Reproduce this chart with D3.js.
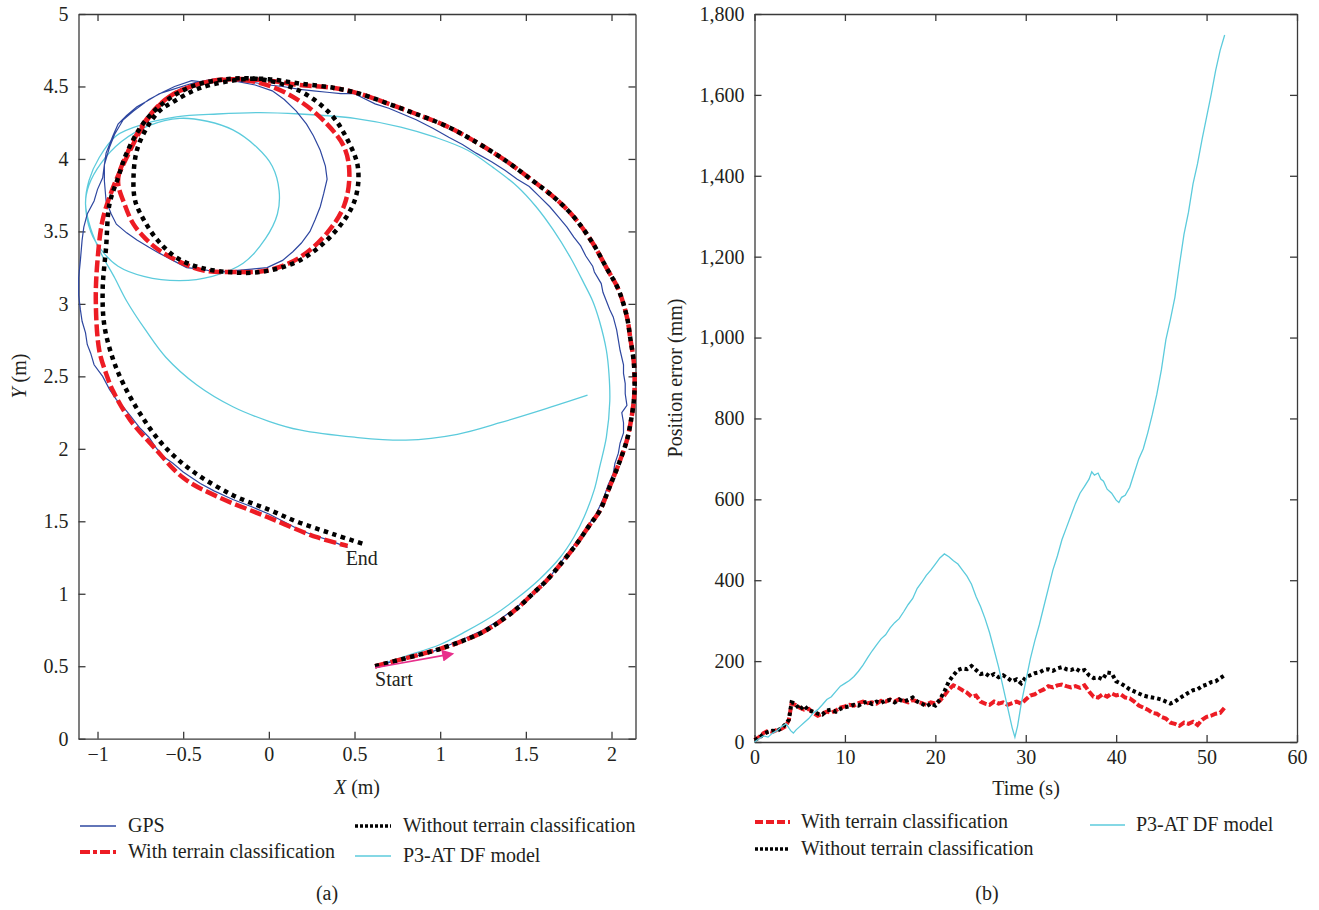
<!DOCTYPE html>
<html><head><meta charset="utf-8">
<script src="https://cdn.jsdelivr.net/npm/d3@7"></script>
<style>
body{margin:0;background:#fff}
text{font-family:"Liberation Serif","DejaVu Serif",serif;fill:#231f20}
</style>
</head><body>
<svg id="c" width="1319" height="910"></svg>
<script>
// ---------- (a) trajectory data (X m, Y m) ----------
const xTicksA = [-1, -0.5, 0, 0.5, 1, 1.5, 2];
const yTicksA = [0, 0.5, 1, 1.5, 2, 2.5, 3, 3.5, 4, 4.5, 5];

const gpsPath = [[0.62,0.50],[0.68,0.52],[0.75,0.54],[0.82,0.56],[0.90,0.58],[1.0,0.62],[1.08,0.66],[1.16,0.70],[1.25,0.75],[1.32,0.80],[1.38,0.85],[1.45,0.91],[1.5,0.96],[1.56,1.02],[1.6,1.07],[1.65,1.13],[1.68,1.18],[1.72,1.24],[1.75,1.28],[1.79,1.35],[1.82,1.40],[1.86,1.46],[1.88,1.50],[1.91,1.55],[1.93,1.60],[1.96,1.68],[1.98,1.75],[2.01,1.83],[2.02,1.90],[2.04,1.97],[2.05,2.04],[2.07,2.11],[2.07,2.18],[2.06,2.25],[2.09,2.30],[2.08,2.38],[2.08,2.45],[2.07,2.52],[2.07,2.58],[2.05,2.68],[2.04,2.75],[2.03,2.82],[2.01,2.91],[1.99,2.96],[1.97,3.02],[1.95,3.08],[1.94,3.14],[1.90,3.22],[1.89,3.26],[1.85,3.33],[1.82,3.40],[1.78,3.46],[1.74,3.53],[1.69,3.60],[1.64,3.67],[1.58,3.74],[1.52,3.81],[1.45,3.86],[1.38,3.92],[1.30,3.98],[1.21,4.04],[1.13,4.10],[1.05,4.15],[0.96,4.21],[0.86,4.27],[0.78,4.31],[0.70,4.35],[0.62,4.38],[0.55,4.42],[0.50,4.45],[0.42,4.45],[0.34,4.46],[0.26,4.47],[0.18,4.48],[0.08,4.50],[0.0,4.51],[-0.1,4.53],[-0.2,4.54],[-0.3,4.55],[-0.38,4.53],[-0.45,4.54],[-0.55,4.50],[-0.62,4.46],[-0.70,4.41],[-0.79,4.33],[-0.85,4.27],[-0.9,4.17],[-0.93,4.08],[-0.96,3.96],[-0.96,3.85],[-0.95,3.71],[-0.92,3.62],[-0.89,3.55],[-0.83,3.49],[-0.77,3.44],[-0.70,3.39],[-0.64,3.35],[-0.56,3.30],[-0.48,3.25],[-0.40,3.24],[-0.3,3.22],[-0.2,3.23],[-0.1,3.24],[-0.01,3.25],[0.08,3.30],[0.14,3.36],[0.19,3.42],[0.24,3.50],[0.27,3.58],[0.30,3.67],[0.32,3.76],[0.34,3.86],[0.33,3.95],[0.30,4.06],[0.26,4.16],[0.22,4.24],[0.16,4.33],[0.09,4.41],[0.02,4.47],[-0.08,4.51],[-0.21,4.54],[-0.32,4.55],[-0.42,4.53],[-0.48,4.51],[-0.56,4.48],[-0.64,4.45],[-0.71,4.40],[-0.77,4.36],[-0.83,4.30],[-0.88,4.24],[-0.91,4.16],[-0.95,4.04],[-0.96,3.96],[-0.97,3.87],[-1.0,3.79],[-1.02,3.71],[-1.06,3.62],[-1.08,3.53],[-1.09,3.44],[-1.10,3.30],[-1.11,3.18],[-1.11,3.06],[-1.10,2.96],[-1.09,2.88],[-1.07,2.80],[-1.06,2.72],[-1.04,2.66],[-1.02,2.58],[-0.97,2.50],[-0.93,2.41],[-0.89,2.34],[-0.85,2.29],[-0.81,2.23],[-0.75,2.14],[-0.70,2.08],[-0.66,2.01],[-0.62,1.95],[-0.56,1.90],[-0.5,1.84],[-0.45,1.80],[-0.4,1.76],[-0.32,1.71],[-0.21,1.65],[-0.1,1.60],[0.0,1.55],[0.1,1.49],[0.18,1.44],[0.27,1.40],[0.35,1.37],[0.46,1.32]];

const withTerrainPath = [[0.62,0.50],[0.75,0.54],[0.88,0.58],[1.0,0.62],[1.12,0.67],[1.24,0.73],[1.35,0.81],[1.45,0.90],[1.54,1.00],[1.62,1.09],[1.70,1.20],[1.80,1.35],[1.87,1.47],[1.93,1.57],[1.99,1.74],[2.05,1.92],[2.09,2.06],[2.11,2.17],[2.13,2.33],[2.135,2.45],[2.13,2.60],[2.11,2.76],[2.09,2.91],[2.04,3.10],[1.97,3.25],[1.89,3.42],[1.78,3.60],[1.67,3.73],[1.54,3.85],[1.38,3.99],[1.19,4.13],[1.03,4.23],[0.86,4.31],[0.70,4.38],[0.53,4.45],[0.38,4.49],[0.18,4.51],[0.0,4.54],[-0.21,4.55],[-0.4,4.52],[-0.58,4.43],[-0.71,4.28],[-0.83,4.03],[-0.88,3.85],[-0.84,3.68],[-0.79,3.55],[-0.72,3.45],[-0.64,3.37],[-0.52,3.29],[-0.38,3.23],[-0.21,3.22],[-0.01,3.23],[0.18,3.32],[0.34,3.49],[0.44,3.68],[0.47,3.90],[0.44,4.08],[0.34,4.24],[0.18,4.40],[-0.01,4.51],[-0.21,4.55],[-0.4,4.52],[-0.58,4.43],[-0.71,4.27],[-0.83,4.01],[-0.91,3.80],[-0.97,3.58],[-1.0,3.30],[-1.01,3.02],[-0.99,2.68],[-0.95,2.52],[-0.91,2.40],[-0.81,2.20],[-0.67,2.01],[-0.5,1.80],[-0.3,1.67],[-0.01,1.53],[0.28,1.39],[0.46,1.33]];

const withoutTerrainPath = [[0.62,0.50],[0.75,0.54],[0.88,0.58],[1.0,0.62],[1.12,0.67],[1.24,0.73],[1.35,0.81],[1.45,0.90],[1.54,1.00],[1.62,1.09],[1.70,1.20],[1.80,1.35],[1.87,1.47],[1.93,1.57],[1.99,1.74],[2.05,1.92],[2.09,2.06],[2.11,2.17],[2.13,2.33],[2.135,2.45],[2.13,2.60],[2.11,2.76],[2.09,2.91],[2.04,3.10],[1.97,3.25],[1.89,3.42],[1.78,3.60],[1.67,3.73],[1.54,3.85],[1.38,3.99],[1.19,4.13],[1.03,4.23],[0.86,4.31],[0.70,4.38],[0.53,4.45],[0.38,4.49],[0.18,4.52],[0.0,4.55],[-0.15,4.55],[-0.4,4.49],[-0.55,4.40],[-0.64,4.33],[-0.71,4.22],[-0.77,4.06],[-0.79,3.87],[-0.78,3.71],[-0.73,3.58],[-0.65,3.44],[-0.54,3.32],[-0.40,3.25],[-0.24,3.22],[-0.05,3.22],[0.18,3.30],[0.38,3.49],[0.50,3.71],[0.52,3.94],[0.46,4.13],[0.36,4.31],[0.18,4.47],[-0.05,4.55],[-0.25,4.55],[-0.45,4.50],[-0.60,4.40],[-0.73,4.25],[-0.83,4.04],[-0.88,3.87],[-0.93,3.69],[-0.95,3.39],[-0.97,3.10],[-0.96,2.85],[-0.91,2.62],[-0.85,2.45],[-0.75,2.24],[-0.62,2.03],[-0.45,1.85],[-0.21,1.68],[0.0,1.58],[0.18,1.49],[0.38,1.41],[0.56,1.34]];

const dfModelPath = [[0.62,0.50],[0.80,0.57],[1.0,0.65],[1.15,0.74],[1.31,0.85],[1.45,0.97],[1.58,1.10],[1.70,1.25],[1.78,1.39],[1.84,1.53],[1.90,1.72],[1.93,1.87],[1.97,2.08],[1.99,2.33],[1.985,2.52],[1.97,2.68],[1.93,2.88],[1.89,3.02],[1.84,3.14],[1.76,3.32],[1.66,3.51],[1.56,3.67],[1.45,3.81],[1.31,3.94],[1.16,4.06],[0.97,4.15],[0.77,4.22],[0.50,4.28],[0.18,4.31],[-0.05,4.32],[-0.30,4.31],[-0.54,4.29],[-0.73,4.24],[-0.89,4.16],[-0.99,4.01],[-1.05,3.85],[-1.07,3.69],[-1.04,3.50],[-0.97,3.36],[-0.88,3.26],[-0.73,3.19],[-0.52,3.16],[-0.33,3.19],[-0.15,3.28],[-0.02,3.45],[0.05,3.62],[0.06,3.78],[0.02,3.95],[-0.07,4.08],[-0.21,4.20],[-0.36,4.26],[-0.52,4.28],[-0.70,4.23],[-0.86,4.12],[-0.98,3.97],[-1.05,3.82],[-1.07,3.69],[-1.04,3.52],[-0.98,3.35],[-0.90,3.18],[-0.83,3.02],[-0.72,2.82],[-0.6,2.63],[-0.42,2.44],[-0.21,2.29],[0.0,2.19],[0.18,2.13],[0.5,2.08],[0.8,2.06],[1.1,2.10],[1.35,2.18],[1.6,2.27],[1.86,2.37]];

const startArrow = [[0.62,0.49],[1.02,0.575]];

// ---------- (b) position error data (time s, error mm) ----------
const xTicksB = [0, 10, 20, 30, 40, 50, 60];
const yTicksB = [0, 200, 400, 600, 800, 1000, 1200, 1400, 1600, 1800];

const withTerrainErr = [[0,5],[0.5,12],[1,22],[1.5,28],[2,25],[2.5,30],[3,33],[3.5,40],[3.8,55],[4.1,95],[4.5,92],[5,85],[5.5,80],[6,82],[6.5,72],[7,65],[7.5,70],[8,75],[8.5,72],[9,78],[9.5,85],[10,88],[10.5,92],[11,90],[11.5,96],[12,100],[12.5,96],[13,98],[13.5,95],[14,102],[14.5,100],[15,105],[15.5,100],[16,106],[16.5,102],[17,98],[17.5,104],[18,100],[18.5,96],[19,92],[19.5,98],[20,95],[20.5,102],[21,115],[21.5,130],[22,140],[22.5,135],[23,128],[23.5,122],[24,112],[24.5,115],[25,100],[25.5,95],[26,92],[26.5,100],[27,95],[27.5,98],[28,92],[28.5,96],[29,100],[29.5,95],[30,105],[30.5,115],[31,118],[31.5,125],[32,130],[32.5,138],[33,135],[33.5,140],[34,142],[34.5,138],[35,135],[35.5,138],[36,134],[36.5,140],[37,125],[37.5,112],[38,110],[38.5,118],[39,112],[39.5,120],[40,115],[40.5,118],[41,110],[41.5,108],[42,100],[42.5,90],[43,85],[43.5,80],[44,72],[44.5,70],[45,62],[45.5,58],[46,48],[46.5,45],[47,40],[47.5,48],[48,45],[48.5,50],[49,42],[49.5,55],[50,62],[50.5,65],[51,70],[51.5,72],[52,85]];

const withoutTerrainErr = [[0,5],[0.5,10],[1,20],[1.5,25],[2,28],[2.5,27],[3,35],[3.5,45],[3.8,55],[4.1,98],[4.5,95],[5,80],[5.5,90],[6,78],[6.5,75],[7,70],[7.5,68],[8,78],[8.5,80],[9,75],[9.5,82],[10,86],[10.5,88],[11,92],[11.5,90],[12,96],[12.5,100],[13,94],[13.5,100],[14,97],[14.5,102],[15,104],[15.5,98],[16,105],[16.5,100],[17,104],[17.5,110],[18,100],[18.5,95],[19,88],[19.5,95],[20,90],[20.5,105],[21,125],[21.5,150],[22,165],[22.5,178],[23,182],[23.5,180],[24,188],[24.5,178],[25,168],[25.5,170],[26,162],[26.5,168],[27,160],[27.5,165],[28,158],[28.5,150],[29,155],[29.5,145],[30,160],[30.5,165],[31,170],[31.5,172],[32,178],[32.5,180],[33,176],[33.5,182],[34,185],[34.5,180],[35,178],[35.5,182],[36,175],[36.5,178],[37,165],[37.5,158],[38,160],[38.5,155],[39,172],[39.5,170],[40,150],[40.5,145],[41,138],[41.5,130],[42,125],[42.5,120],[43,115],[43.5,112],[44,110],[44.5,108],[45,105],[45.5,100],[46,95],[46.5,100],[47,108],[47.5,115],[48,122],[48.5,128],[49,130],[49.5,138],[50,142],[50.5,148],[51,150],[51.5,158],[52,165]];

const dfModelErr = [[0,0],[0.5,8],[1,15],[1.5,12],[2,22],[2.5,28],[3,38],[3.5,45],[4,28],[4.3,22],[4.6,30],[5,38],[5.5,48],[6,58],[6.5,72],[7,80],[7.5,92],[8,105],[8.5,112],[9,125],[9.5,138],[10,145],[10.5,152],[11,162],[11.5,175],[12,190],[12.5,208],[13,225],[13.5,240],[14,255],[14.5,265],[15,282],[15.5,295],[16,305],[16.5,322],[17,340],[17.5,355],[18,380],[18.5,395],[19,412],[19.5,425],[20,440],[20.5,455],[21,465],[21.5,458],[22,448],[22.5,440],[23,425],[23.5,410],[24,390],[24.5,360],[25,335],[25.5,305],[26,270],[26.5,228],[27,185],[27.5,135],[28,85],[28.5,35],[28.8,12],[29.1,40],[29.5,95],[30,150],[30.5,205],[31,250],[31.5,290],[32,335],[32.5,380],[33,425],[33.5,460],[34,500],[34.5,530],[35,560],[35.5,590],[36,615],[36.5,632],[37,650],[37.3,668],[37.6,660],[38,665],[38.3,650],[38.6,645],[39,625],[39.5,615],[40,598],[40.3,592],[40.6,605],[41,610],[41.5,630],[42,665],[42.5,700],[43,725],[43.5,765],[44,810],[44.5,860],[45,920],[45.5,995],[46,1045],[46.5,1100],[47,1180],[47.5,1255],[48,1310],[48.5,1380],[49,1430],[49.5,1490],[50,1545],[50.5,1600],[51,1660],[51.5,1710],[52,1748]];

// ---------- styles ----------
const C = {gps:"#2e47a0", red:"#ed1c24", black:"#000", cyan:"#5ccbdc", axis:"#3a3a3a", arrow:"#e8308c"};
const svg = d3.select("#c");
const FS = 20;
const minusFmt = d => (d < 0 ? "\u2212" : "") + Math.abs(d);

function frame(g, x, y, xt, yt, xfmt, yfmt) {
  const [x0, x1] = x.range(), [y0, y1] = y.range();
  const styleAxis = a => {
    a.selectAll("path.domain").attr("stroke", C.axis).attr("stroke-width", 1.3);
    a.selectAll(".tick line").attr("stroke", C.axis).attr("stroke-width", 1.3);
    a.selectAll("text").attr("font-size", FS).attr("font-family", '"Liberation Serif",serif').attr("fill", "#231f20");
  };
  g.append("g").attr("transform", `translate(0,${y0})`)
    .call(d3.axisBottom(x).tickValues(xt).tickFormat(xfmt).tickSizeInner(-7).tickSizeOuter(0).tickPadding(8)).call(styleAxis);
  g.append("g").attr("transform", `translate(0,${y1})`)
    .call(d3.axisTop(x).tickValues(xt).tickFormat("").tickSizeInner(-7).tickSizeOuter(0)).call(styleAxis);
  g.append("g").attr("transform", `translate(${x0},0)`)
    .call(d3.axisLeft(y).tickValues(yt).tickFormat(yfmt).tickSizeInner(-7).tickSizeOuter(0).tickPadding(10)).call(styleAxis);
  g.append("g").attr("transform", `translate(${x1},0)`)
    .call(d3.axisRight(y).tickValues(yt).tickFormat("").tickSizeInner(-7).tickSizeOuter(0)).call(styleAxis);
}

// ================= (a) =================
const xA = d3.scaleLinear().domain([-1.111, 2.14]).range([78.5, 635.5]);
const yA = d3.scaleLinear().domain([0, 5]).range([738.7, 14]);
const gA = svg.append("g");
frame(gA, xA, yA, xTicksA, yTicksA, minusFmt, minusFmt);

const lineA = d3.line().x(d => xA(d[0])).y(d => yA(d[1])).curve(d3.curveCatmullRom.alpha(0.5));
const lineAlin = d3.line().x(d => xA(d[0])).y(d => yA(d[1]));

gA.append("path").datum(dfModelPath).attr("d", lineA).attr("fill","none").attr("stroke",C.cyan).attr("stroke-width",1.3);
gA.append("path").datum(gpsPath).attr("d", lineAlin).attr("fill","none").attr("stroke",C.gps).attr("stroke-width",1.2);
gA.append("path").datum(withTerrainPath).attr("d", lineA).attr("fill","none").attr("stroke",C.red).attr("stroke-width",4.5).attr("stroke-dasharray","12,4");
gA.append("path").datum(withoutTerrainPath).attr("d", lineA).attr("fill","none").attr("stroke",C.black).attr("stroke-width",4.5).attr("stroke-dasharray","4.5,4.5");

// start arrow
svg.append("defs").append("marker").attr("id","ah").attr("viewBox","0 0 10 10").attr("refX",1).attr("refY",5)
  .attr("markerWidth",14).attr("markerHeight",12).attr("markerUnits","userSpaceOnUse").attr("orient","auto")
  .append("path").attr("d","M0,0 L10,5 L0,10 z").attr("fill",C.arrow);
gA.append("line").attr("x1",xA(startArrow[0][0])).attr("y1",yA(startArrow[0][1]))
  .attr("x2",xA(startArrow[1][0])).attr("y2",yA(startArrow[1][1]))
  .attr("stroke",C.arrow).attr("stroke-width",1.6).attr("marker-end","url(#ah)");

gA.append("text").attr("x",xA(0.62)).attr("y",yA(0.5)+20).attr("font-size",FS).text("Start");
gA.append("text").attr("x",xA(0.46)-2).attr("y",yA(1.33)+19).attr("font-size",FS).text("End");

// axis titles
gA.append("text").attr("x",357).attr("y",794).attr("text-anchor","middle").attr("font-size",FS)
  .html('<tspan font-style="italic">X</tspan> (m)');
gA.append("text").attr("transform","translate(26,376) rotate(-90)").attr("text-anchor","middle").attr("font-size",FS)
  .html('<tspan font-style="italic">Y</tspan> (m)');

// legend (a)
const legA = [
  {x:80, y:826, lbl:"GPS", c:C.gps, w:1.3, da:null},
  {x:80, y:852, lbl:"With terrain classification", c:C.red, w:4, da:"10,3,4,3"},
  {x:355, y:826, lbl:"Without terrain classification", c:C.black, w:3.5, da:"3,2"},
  {x:355, y:856, lbl:"P3-AT DF model", c:C.cyan, w:1.5, da:null}
];
legA.forEach(l => {
  const ln = gA.append("line").attr("x1",l.x).attr("x2",l.x+36).attr("y1",l.y).attr("y2",l.y).attr("stroke",l.c).attr("stroke-width",l.w);
  if (l.da) ln.attr("stroke-dasharray", l.da);
  gA.append("text").attr("x", l.x + 48).attr("y", l.y + 6).attr("font-size",FS).text(l.lbl);
});
gA.append("text").attr("x",327).attr("y",900).attr("text-anchor","middle").attr("font-size",FS).text("(a)");

// ================= (b) =================
const xB = d3.scaleLinear().domain([0, 60]).range([754.5, 1297]);
const yB = d3.scaleLinear().domain([0, 1800]).range([742, 14]);
const gB = svg.append("g");
frame(gB, xB, yB, xTicksB, yTicksB, d3.format("d"), d3.format(","));

const lineB = d3.line().x(d => xB(d[0])).y(d => yB(d[1]));
gB.append("path").datum(withTerrainErr).attr("d", lineB).attr("fill","none").attr("stroke",C.red).attr("stroke-width",4).attr("stroke-dasharray","7,2.5");
gB.append("path").datum(withoutTerrainErr).attr("d", lineB).attr("fill","none").attr("stroke",C.black).attr("stroke-width",4).attr("stroke-dasharray","3.5,3");
gB.append("path").datum(dfModelErr).attr("d", lineB).attr("fill","none").attr("stroke",C.cyan).attr("stroke-width",1.3);

gB.append("text").attr("x",1026).attr("y",795).attr("text-anchor","middle").attr("font-size",FS).text("Time (s)");
gB.append("text").attr("transform","translate(682,378) rotate(-90)").attr("text-anchor","middle").attr("font-size",FS).text("Position error (mm)");

const legB = [
  {x:755, y:822, lbl:"With terrain classification", c:C.red, w:4, da:"8,3"},
  {x:755, y:849, lbl:"Without terrain classification", c:C.black, w:3.5, da:"3,2"},
  {x:1090, y:825, lbl:"P3-AT DF model", c:C.cyan, w:1.5, da:null}
];
legB.forEach(l => {
  const ln = gB.append("line").attr("x1",l.x).attr("x2",l.x+35).attr("y1",l.y).attr("y2",l.y).attr("stroke",l.c).attr("stroke-width",l.w);
  if (l.da) ln.attr("stroke-dasharray", l.da);
  gB.append("text").attr("x", l.x + 46).attr("y", l.y + 6).attr("font-size",FS).text(l.lbl);
});
gB.append("text").attr("x",987).attr("y",900).attr("text-anchor","middle").attr("font-size",FS).text("(b)");
</script>
</body></html>
